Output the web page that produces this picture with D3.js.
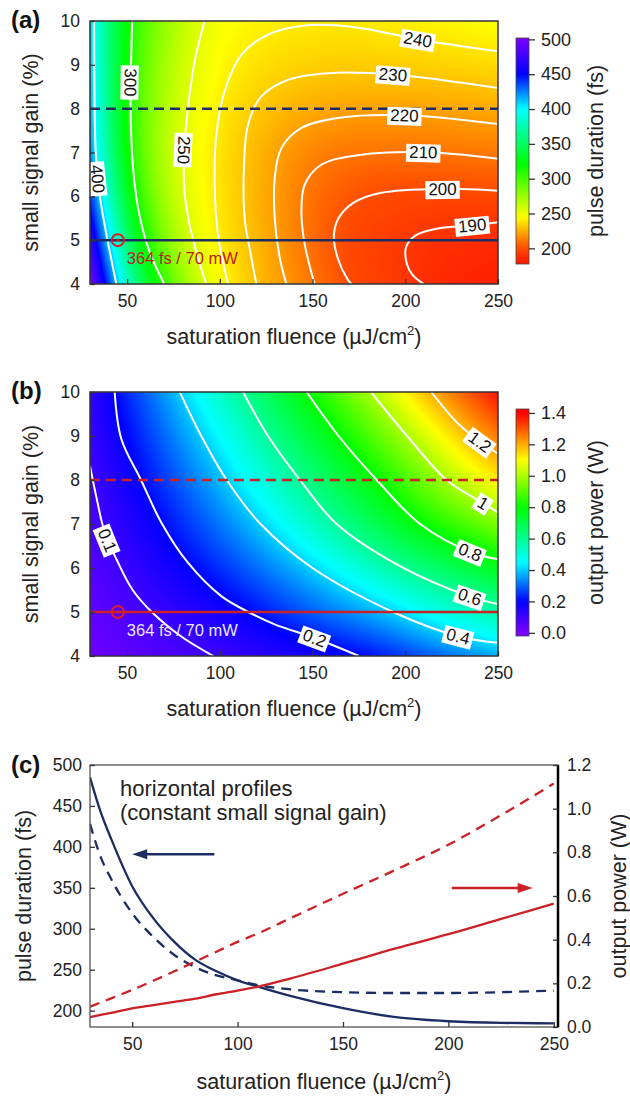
<!DOCTYPE html>
<html lang="en">
<head>
  <meta charset="UTF-8">
  <title>Pulse duration and output power maps</title>
  <script src="https://d3js.org/d3.v7.min.js"></script>
  <style>
    body { margin: 0; background: #fff; }
    text { font-family: "Liberation Sans", Arial, sans-serif; }
  </style>
</head>
<body>
  <svg id="chart" width="630" height="1096"></svg>

  <script>
    // ---- data ----
    // map grid: saturation fluence (uJ/cm2) and small signal gain (%)
    const fluence = [30, 50, 70, 90, 110, 130, 150, 170, 190, 210, 230, 250];
    const gain = [4, 5, 6, 7, 8, 9, 10];

    // pulse duration (fs), one row per gain value
    const pulseDuration = [
      [500, 375, 300, 254, 236, 222, 211, 199, 194, 188.5, 184, 182],       // 4 %
      [470, 345, 277, 246.5, 233, 220.5, 207, 198, 193.5, 189.5, 187, 186], // 5 %
      [440, 322, 266, 244.5, 232, 220, 208.5, 201.5, 198.5, 197.5, 198, 198.5], // 6 %
      [420, 308, 262, 243, 232, 221, 213, 210, 209.5, 210, 211, 212],       // 7 %
      [415, 304, 266, 246, 235.5, 228, 224, 222, 222, 222, 223, 224],       // 8 %
      [410, 306, 270, 248, 240, 236, 234, 233, 233, 234, 235, 236.5],       // 9 %
      [408, 309, 276, 251, 244, 241, 239.5, 239.5, 241, 242, 244, 246]      // 10 %
    ];

    // output power (W), one row per gain value
    const outputPower = [
      [0.02, 0.045, 0.07, 0.092, 0.118, 0.143, 0.17, 0.19, 0.235, 0.28, 0.325, 0.37],
      [0.045, 0.078, 0.115, 0.15, 0.185, 0.24, 0.295, 0.345, 0.39, 0.46, 0.515, 0.57],
      [0.06, 0.11, 0.163, 0.215, 0.275, 0.34, 0.40, 0.48, 0.565, 0.64, 0.70, 0.76],
      [0.08, 0.14, 0.21, 0.28, 0.355, 0.435, 0.535, 0.635, 0.73, 0.81, 0.88, 0.95],
      [0.095, 0.17, 0.255, 0.34, 0.43, 0.535, 0.635, 0.73, 0.825, 0.935, 1.04, 1.12],
      [0.11, 0.205, 0.30, 0.40, 0.50, 0.615, 0.725, 0.825, 0.94, 1.05, 1.16, 1.26],
      [0.125, 0.238, 0.352, 0.465, 0.585, 0.70, 0.82, 0.93, 1.05, 1.175, 1.28, 1.38]
    ];

    // iso lines as traced [fluence, gain]; "at" = where the label sits
    const pulseContours = [
      { level: 400, at: [34.6, 6.4], pts: [[32.2, 10], [32.5, 8], [33.2, 6.9], [35.2, 6.04], [37.9, 5.35], [40.6, 4.75], [44.2, 4]] },
      { level: 300, at: [52.2, 8.6], pts: [[52.8, 10], [51.9, 8.5], [52.2, 7.4], [54, 6.3], [57, 5.5], [62, 4.75], [70, 4]] },
      { level: 250, at: [80.5, 7.05], pts: [[91.8, 10], [86.4, 9.08], [82.8, 8], [80.7, 7.03], [81, 6.1], [83.7, 5.35], [88.2, 4.6], [92.7, 4]] },
      { level: 240, at: [207, 9.6], pts: [[250, 9.31], [207, 9.58], [172.7, 9.86], [145.8, 9.9], [126, 9.69], [111.6, 9.23], [102.6, 8.4], [98.1, 7.4], [97.2, 6.27], [99, 5.13], [104.4, 4]] },
      { level: 230, at: [193.4, 8.77], pts: [[250, 8.47], [193.4, 8.78], [158.3, 8.81], [136.8, 8.66], [122.4, 8.28], [115.2, 7.63], [113, 6.65], [113.4, 5.5], [117, 4.6], [119.7, 4]] },
      { level: 220, at: [199.5, 7.86], pts: [[250, 7.65], [199.7, 7.85], [165.5, 7.8], [144, 7.56], [133.2, 7.1], [129.6, 6.42], [129.6, 5.5], [132.3, 4.6], [135.9, 4]] },
      { level: 210, at: [209.6, 7.01], pts: [[250, 6.86], [209.6, 7.01], [176.3, 6.95], [154.7, 6.72], [145.8, 6.27], [144, 5.66], [145.8, 4.9], [151.1, 4]] },
      { level: 200, at: [220, 6.17], pts: [[250, 6.13], [220, 6.17], [187, 6.08], [172, 5.85], [164, 5.5], [161.5, 5.1], [163.5, 4.6], [169, 4.1], [171, 4]] },
      { level: 190, at: [236, 5.34], pts: [[250, 5.41], [236, 5.34], [218, 5.27], [206, 5.12], [200.5, 4.85], [200.8, 4.47], [204, 4.2], [210, 4]] }
    ];

    const powerContours = [
      { level: 0.1, at: [39, 6.62], pts: [[30, 8.32], [33.5, 7.6], [38, 6.8], [44.6, 6.17], [53, 5.5], [63.3, 5], [79, 4.45], [96.5, 4]] },
      { level: 0.2, at: [151, 4.41], pts: [[43.3, 10], [46.9, 8.93], [57.5, 8], [68.5, 7.03], [82.8, 6.12], [100.8, 5.36], [115.4, 5], [129.6, 4.72], [151.1, 4.41], [175, 4]] },
      { level: 0.4, at: [228.4, 4.44], pts: [[78.4, 10], [90, 9], [103.7, 8], [122, 7], [150, 6], [193.4, 5], [228.4, 4.45], [250, 4.3]] },
      { level: 0.6, at: [234.9, 5.36], pts: [[112.5, 10], [126, 9], [143.2, 8], [163, 7], [197.2, 6.04], [234, 5.36], [250, 5.18]] },
      { level: 0.8, at: [235, 6.38], pts: [[146.8, 10], [164, 9], [184.6, 8], [208, 7], [236.5, 6.34], [250, 6.2]] },
      { level: 1, at: [242, 7.47], pts: [[181.5, 10], [201, 9], [222.3, 8], [243, 7.45], [250, 7.26]] },
      { level: 1.2, at: [240.3, 8.87], pts: [[214, 10], [228, 9.3], [240.3, 8.87], [250, 8.6]] }
    ];

    const workingPoint = [45, 5];            // marked operating point
    const workingLabel = "364 fs / 70 mW";
    const profileGains = [5, 8];            // solid / dashed horizontal lines

    // horizontal profiles, panel (c)
    const profileFluence = [30, 35, 40, 50, 60, 70, 80, 90, 100, 110, 125, 150, 175, 200, 225, 250];
    const pulseAt5 = [485, 443, 410, 352, 313, 284, 262, 248, 237, 229, 218, 203, 192, 187, 185, 184.5];
    const pulseAt8 = [428, 388, 361, 319, 290, 268, 253, 243, 237, 231, 226, 222.5, 221.5, 221.5, 222.5, 224.5];
    const powerAt5 = [0.045, 0.055, 0.065, 0.085, 0.10, 0.115, 0.13, 0.15, 0.167, 0.185, 0.222, 0.29, 0.36, 0.425, 0.495, 0.565];
    const powerAt8 = [0.093, 0.112, 0.131, 0.17, 0.212, 0.255, 0.30, 0.345, 0.39, 0.43, 0.498, 0.61, 0.72, 0.835, 0.97, 1.115];

    const fluenceTicks = [50, 100, 150, 200, 250];
    const gainTicks = [4, 5, 6, 7, 8, 9, 10];
    const pulseTicks = [200, 250, 300, 350, 400, 450, 500];
    const powerTicks = [0, 0.2, 0.4, 0.6, 0.8, 1.0, 1.2, 1.4];
    const powerTicksC = [0, 0.2, 0.4, 0.6, 0.8, 1.0, 1.2];

    // ---- styles ----
    const NAVY = "#1c2d63", RED = "#cc2027", INK = "#222";
    const pulseColor = d3.scaleLinear()
      .domain([180, 200, 245, 320, 400, 450, 500])
      .range(["#ff1a00", "#ff4a00", "#ffff00", "#00ff00", "#00ffff", "#0000ff", "#7a00ff"])
      .clamp(true);
    const powerColor = d3.scaleLinear()
      .domain([0, 0.2, 0.45, 0.8, 1.1, 1.4])
      .range(["#7a00ff", "#0000ff", "#00ffff", "#00ff00", "#ffff00", "#ff0000"])
      .clamp(true);

    const svg = d3.select("#chart");
    const defs = svg.append("defs");

    // render the gridded field as a smooth image (B-spline between grid nodes)
    function fieldImage(grid, color, x, y) {
      const x0 = x.range()[0], y0 = y.range()[1];
      const w = Math.round(x.range()[1] - x0), h = Math.round(y.range()[0] - y0);
      const canvas = document.createElement("canvas");
      canvas.width = w; canvas.height = h;
      const ctx = canvas.getContext("2d");
      const img = ctx.createImageData(w, h);
      const rows = grid.map(r => d3.interpolateBasis(r));
      const fx0 = fluence[0], fx1 = fluence[fluence.length - 1];
      const gy0 = gain[0], gy1 = gain[gain.length - 1];
      for (let i = 0; i < w; i++) {
        const tx = (x.invert(x0 + i + 0.5) - fx0) / (fx1 - fx0);
        const colInterp = d3.interpolateBasis(rows.map(f => f(tx)));
        for (let j = 0; j < h; j++) {
          const ty = (y.invert(y0 + j + 0.5) - gy0) / (gy1 - gy0);
          const c = d3.rgb(color(colInterp(ty)));
          const k = (j * w + i) * 4;
          img.data[k] = c.r; img.data[k + 1] = c.g; img.data[k + 2] = c.b; img.data[k + 3] = 255;
        }
      }
      ctx.putImageData(img, 0, 0);
      return canvas.toDataURL();
    }

    function styleAxis(a, size) {
      a.select(".domain").remove();
      a.selectAll("line").attr("stroke", "#333").attr("stroke-width", 1.3);
      a.selectAll("text").style("font-size", size).style("fill", INK);
    }

    function colorbar(id, color, lo, hi, top, bottom, ticks, fmt, title) {
      const grad = defs.append("linearGradient").attr("id", id)
        .attr("x1", 0).attr("y1", 1).attr("x2", 0).attr("y2", 0);
      d3.range(0, 1.0001, 0.02).forEach(t => {
        grad.append("stop").attr("offset", t).attr("stop-color", color(lo + t * (hi - lo)));
      });
      const s = d3.scaleLinear().domain([lo, hi]).range([bottom, top]);
      svg.append("rect").attr("x", 516).attr("y", top).attr("width", 13).attr("height", bottom - top)
        .attr("fill", `url(#${id})`).attr("stroke", "#444").attr("stroke-width", 0.8);
      const ax = svg.append("g").attr("transform", "translate(529,0)")
        .call(d3.axisRight(s).tickValues(ticks).tickFormat(fmt).tickSizeInner(6).tickSizeOuter(0).tickPadding(6));
      styleAxis(ax, "18px");
      svg.append("text").attr("transform", `translate(603,${(top + bottom) / 2}) rotate(-90)`)
        .attr("text-anchor", "middle").style("font-size", "21.5px").style("fill", INK).text(title);
    }

    function xTitle(cx, baseline) {
      const t = svg.append("text").attr("x", cx).attr("y", baseline).attr("text-anchor", "middle")
        .style("font-size", "21.5px").style("fill", INK);
      t.append("tspan").text("saturation fluence (\u00b5J/cm");
      t.append("tspan").attr("dy", -9).style("font-size", "13px").text("2");
      t.append("tspan").attr("dy", 9).text(")");
    }

    function heatPanel(cfg) {
      const x = d3.scaleLinear().domain([30, 250]).range([90, 498]);
      const y = d3.scaleLinear().domain([4, 10]).range([cfg.bottom, cfg.top]);
      const g = svg.append("g");

      defs.append("clipPath").attr("id", cfg.id + "clip").append("rect")
        .attr("x", 90).attr("y", cfg.top).attr("width", 408).attr("height", cfg.bottom - cfg.top);

      const plot = g.append("g").attr("clip-path", `url(#${cfg.id}clip)`);
      plot.append("image")
        .attr("href", fieldImage(cfg.grid, cfg.color, x, y))
        .attr("x", 90).attr("y", cfg.top).attr("width", 408).attr("height", cfg.bottom - cfg.top)
        .attr("preserveAspectRatio", "none");

      const line = d3.line().x(d => x(d[0])).y(d => y(d[1])).curve(d3.curveCatmullRom.alpha(0.5));
      const paths = cfg.contours.map(c => plot.append("path").attr("d", line(c.pts))
        .attr("fill", "none").attr("stroke", "#fff").attr("stroke-width", 2));

      // horizontal profile lines
      profileGains.forEach((gv, i) => {
        plot.append("line").attr("x1", 90).attr("x2", 498).attr("y1", y(gv)).attr("y2", y(gv))
          .attr("stroke", cfg.lineColor).attr("stroke-width", 2.5)
          .attr("stroke-dasharray", i === 1 ? "10,6" : null);
      });

      // contour labels in white boxes, turned along the line
      const labels = g.append("g");
      cfg.contours.forEach((c, i) => {
        const node = paths[i].node(), L = node.getTotalLength();
        const ax = x(c.at[0]), ay = y(c.at[1]);
        let best = 0, bd = Infinity;
        for (let s = 0; s <= L; s += 0.5) {
          const p = node.getPointAtLength(s);
          const d = (p.x - ax) ** 2 + (p.y - ay) ** 2;
          if (d < bd) { bd = d; best = s; }
        }
        const p = node.getPointAtLength(best);
        const p1 = node.getPointAtLength(Math.max(0, best - 5));
        const p2 = node.getPointAtLength(Math.min(L, best + 5));
        let ang = Math.atan2(p2.y - p1.y, p2.x - p1.x) * 180 / Math.PI;
        if (ang > 90) ang -= 180;
        if (ang <= -90) ang += 180;
        if (ang < -70) ang += 180;   // steep labels read downwards, as in the figure
        const lg = labels.append("g").attr("transform", `translate(${p.x},${p.y}) rotate(${ang})`);
        const rect = lg.append("rect").attr("fill", "#fff");
        const t = lg.append("text").attr("text-anchor", "middle").attr("dy", "0.36em")
          .style("font-size", "17px").style("fill", "#111").text(c.level);
        const bb = t.node().getBBox();
        rect.attr("x", bb.x - 3).attr("y", bb.y + 1).attr("width", bb.width + 6).attr("height", bb.height - 1);
      });

      // operating point
      g.append("circle").attr("cx", x(workingPoint[0])).attr("cy", y(workingPoint[1])).attr("r", 6)
        .attr("fill", "none").attr("stroke", "#e01b24").attr("stroke-width", 2);
      g.append("circle").attr("cx", x(workingPoint[0])).attr("cy", y(workingPoint[1])).attr("r", 1.6)
        .attr("fill", "#e01b24");
      g.append("text").attr("x", x(workingPoint[0]) + 9).attr("y", y(workingPoint[1]) + 24)
        .style("font-size", "16.5px").style("fill", cfg.noteColor).text(workingLabel);

      // frame and axes
      g.append("rect").attr("x", 90).attr("y", cfg.top).attr("width", 408).attr("height", cfg.bottom - cfg.top)
        .attr("fill", "none").attr("stroke", "#333").attr("stroke-width", 1.5);

      const xa = g.append("g").attr("transform", `translate(0,${cfg.bottom})`)
        .call(d3.axisBottom(x).tickValues(fluenceTicks).tickSizeInner(-5).tickSizeOuter(0).tickPadding(11));
      const ya = g.append("g").attr("transform", "translate(90,0)")
        .call(d3.axisLeft(y).tickValues(gainTicks).tickFormat(d3.format("d"))
          .tickSizeInner(-5).tickSizeOuter(0).tickPadding(10));
      styleAxis(xa, "17.5px");
      styleAxis(ya, "17.5px");

      svg.append("text").attr("transform", `translate(38,${(cfg.top + cfg.bottom) / 2}) rotate(-90)`)
        .attr("text-anchor", "middle").style("font-size", "21.5px").style("fill", INK).text("small signal gain (%)");
      xTitle(294, cfg.bottom + 60);
      svg.append("text").attr("x", 11).attr("y", cfg.top + 7).style("font-size", "24px")
        .style("font-weight", "bold").style("fill", "#111").text(cfg.tag);
    }

    heatPanel({
      id: "a", tag: "(a)", top: 21, bottom: 284, grid: pulseDuration, color: pulseColor,
      contours: pulseContours, lineColor: NAVY, noteColor: "#b81c22"
    });
    colorbar("gradA", pulseColor, 177.5, 502, 38, 264, pulseTicks, d3.format("d"), "pulse duration (fs)");

    heatPanel({
      id: "b", tag: "(b)", top: 392, bottom: 656, grid: outputPower, color: powerColor,
      contours: powerContours, lineColor: RED, noteColor: "#ece6ff"
    });
    colorbar("gradB", powerColor, -0.02, 1.425, 409, 636, powerTicks, d3.format(".1f"), "output power (W)");

    // ---- panel (c): horizontal profiles ----
    const xC = d3.scaleLinear().domain([30, 252]).range([90, 558]);
    const yL = d3.scaleLinear().domain([180, 500]).range([1027, 765]);
    const yR = d3.scaleLinear().domain([0, 1.2]).range([1027, 765]);

    const gc = svg.append("g");
    defs.append("clipPath").attr("id", "cclip").append("rect")
      .attr("x", 90).attr("y", 765).attr("width", 468).attr("height", 262);
    const plotC = gc.append("g").attr("clip-path", "url(#cclip)");

    const series = [
      { vals: pulseAt5, y: yL, color: NAVY, dash: null },
      { vals: pulseAt8, y: yL, color: NAVY, dash: "10,7" },
      { vals: powerAt5, y: yR, color: RED, dash: null },
      { vals: powerAt8, y: yR, color: RED, dash: "10,7" }
    ];
    series.forEach(s => {
      const line = d3.line().x((d, i) => xC(profileFluence[i])).y(d => s.y(d)).curve(d3.curveMonotoneX);
      plotC.append("path").attr("d", line(s.vals)).attr("fill", "none")
        .attr("stroke", s.color).attr("stroke-width", 2.3).attr("stroke-dasharray", s.dash);
    });

    gc.append("rect").attr("x", 90).attr("y", 765).attr("width", 468).attr("height", 262)
      .attr("fill", "none").attr("stroke", "#555").attr("stroke-width", 1.3);
    gc.append("line").attr("x1", 558).attr("x2", 558).attr("y1", 765).attr("y2", 1027)
      .attr("stroke", "#000").attr("stroke-width", 2.5);

    styleAxis(gc.append("g").attr("transform", "translate(0,1027)")
      .call(d3.axisBottom(xC).tickValues(fluenceTicks).tickSizeInner(-5).tickSizeOuter(0).tickPadding(11)), "17.5px");
    styleAxis(gc.append("g").attr("transform", "translate(90,0)")
      .call(d3.axisLeft(yL).tickValues(pulseTicks).tickSizeInner(-5).tickSizeOuter(0).tickPadding(8)), "17.5px");
    styleAxis(gc.append("g").attr("transform", "translate(558,0)")
      .call(d3.axisRight(yR).tickValues(powerTicksC).tickFormat(d3.format(".1f"))
        .tickSizeInner(-5).tickSizeOuter(0).tickPadding(9)), "17.5px");

    // direction arrows
    function arrow(x1, x2, py, color) {
      const px1 = xC(x1), px2 = xC(x2);
      const dir = Math.sign(px2 - px1);
      gc.append("line").attr("x1", px1).attr("x2", px2 - dir * 12).attr("y1", py).attr("y2", py)
        .attr("stroke", color).attr("stroke-width", 2.5);
      gc.append("path").attr("d", `M${px2},${py} L${px2 - dir * 15},${py - 5} L${px2 - dir * 15},${py + 5} Z`)
        .attr("fill", color);
    }
    arrow(89, 50, yL(391), NAVY);
    arrow(201.6, 240, yR(0.637), RED);

    gc.append("text").attr("x", 120).attr("y", 796).style("font-size", "22px").style("fill", INK)
      .text("horizontal profiles");
    gc.append("text").attr("x", 120).attr("y", 820).style("font-size", "22px").style("fill", INK)
      .text("(constant small signal gain)");

    svg.append("text").attr("transform", "translate(31,896) rotate(-90)").attr("text-anchor", "middle")
      .style("font-size", "21.5px").style("fill", INK).text("pulse duration (fs)");
    svg.append("text").attr("transform", "translate(626,896) rotate(-90)").attr("text-anchor", "middle")
      .style("font-size", "21.5px").style("fill", INK).text("output power (W)");
    xTitle(324, 1089);
    svg.append("text").attr("x", 11).attr("y", 773).style("font-size", "24px")
      .style("font-weight", "bold").style("fill", "#111").text("(c)");
  </script>
</body>
</html>
